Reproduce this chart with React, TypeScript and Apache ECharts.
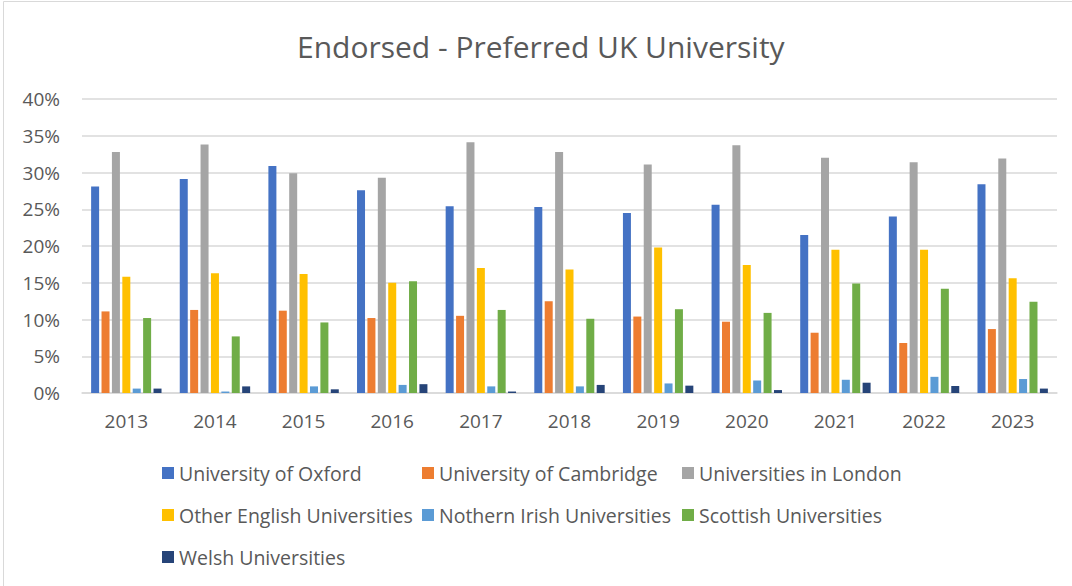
import React, { useEffect, useRef } from "react";
import * as echarts from "echarts";

const years = ["2013", "2014", "2015", "2016", "2017", "2018", "2019", "2020", "2021", "2022", "2023"];
const oxford = [28.1, 29.1, 30.9, 27.6, 25.4, 25.3, 24.5, 25.6, 21.5, 24.0, 28.4];
const cambridge = [11.1, 11.3, 11.2, 10.2, 10.5, 12.5, 10.4, 9.7, 8.2, 6.8, 8.7];
const london = [32.8, 33.8, 29.9, 29.3, 34.1, 32.8, 31.1, 33.7, 32.0, 31.4, 31.9];
const otherEnglish = [15.8, 16.3, 16.2, 15.0, 17.0, 16.8, 19.8, 17.4, 19.5, 19.5, 15.6];
const northernIrish = [0.6, 0.2, 0.9, 1.1, 0.9, 0.9, 1.3, 1.7, 1.8, 2.2, 1.9];
const scottish = [10.2, 7.7, 9.6, 15.2, 11.3, 10.1, 11.4, 10.9, 14.9, 14.2, 12.4];
const welsh = [0.6, 0.9, 0.5, 1.2, 0.2, 1.1, 1.0, 0.4, 1.4, 0.95, 0.6];

const seriesDefs = [
  { name: "University of Oxford", data: oxford, color: "#4472C4" },
  { name: "University of Cambridge", data: cambridge, color: "#ED7D31" },
  { name: "Universities in London", data: london, color: "#A5A5A5" },
  { name: "Other English Universities", data: otherEnglish, color: "#FFC000" },
  { name: "Nothern Irish Universities", data: northernIrish, color: "#5B9BD5" },
  { name: "Scottish Universities", data: scottish, color: "#70AD47" },
  { name: "Welsh Universities", data: welsh, color: "#264478" },
];

const FONT = "'Open Sans', 'Noto Sans', sans-serif";
const TXT = "#595959";

export default function App() {
  const ref = useRef<HTMLDivElement>(null);
  useEffect(() => {
    if (!ref.current) return;
    const chart = echarts.init(ref.current, undefined, { renderer: "svg" });
    chart.setOption({
      animation: false,
      backgroundColor: "#ffffff",
      title: {
        text: "Endorsed - Preferred UK University",
        left: 297,
        top: 26,
        padding: [5, 0, 5, 0],
        textStyle: { fontFamily: FONT, fontSize: 30, fontWeight: "normal", color: TXT },
      },
      graphic: [
        {
          type: "rect",
          shape: { x: 3.5, y: 1.5, width: 1080, height: 600 },
          style: { fill: "none", stroke: "#D9D9D9", lineWidth: 1 },
          silent: true,
        },
      ],
      grid: { left: 82, right: 15, top: 99, bottom: 193, containLabel: false },
      xAxis: {
        type: "category",
        data: years,
        axisLine: { show: true, lineStyle: { color: "#D9D9D9", width: 1.5 } },
        axisTick: { show: false },
        axisLabel: { fontFamily: FONT, fontSize: 19, color: TXT, margin: 18 },
      },
      yAxis: {
        type: "value",
        min: 0,
        max: 40,
        interval: 5,
        axisLine: { show: false },
        axisTick: { show: false },
        splitLine: { lineStyle: { color: "#D9D9D9", width: 1.5 } },
        axisLabel: { fontFamily: FONT, fontSize: 19, color: TXT, formatter: "{value}%", margin: 22 },
      },
      legend: {
        left: 162,
        top: 456,
        padding: 0,
        width: 800,
        itemWidth: 12,
        itemHeight: 12,
        itemGap: 8,
        icon: "rect",
        textStyle: { fontFamily: FONT, fontSize: 19.5, color: TXT, width: 235, lineHeight: 34 },
        data: seriesDefs.map((s) => s.name),
      },
      series: seriesDefs.map((s) => ({
        name: s.name,
        type: "bar",
        data: s.data,
        barWidth: 8,
        barGap: "30%",
        itemStyle: { color: s.color },
      })),
    });
    return () => chart.dispose();
  }, []);
  return (
    <div
      ref={ref}
      style={{ position: "fixed", left: 0, top: 0, width: 1072, height: 586 }}
    />
  );
}
